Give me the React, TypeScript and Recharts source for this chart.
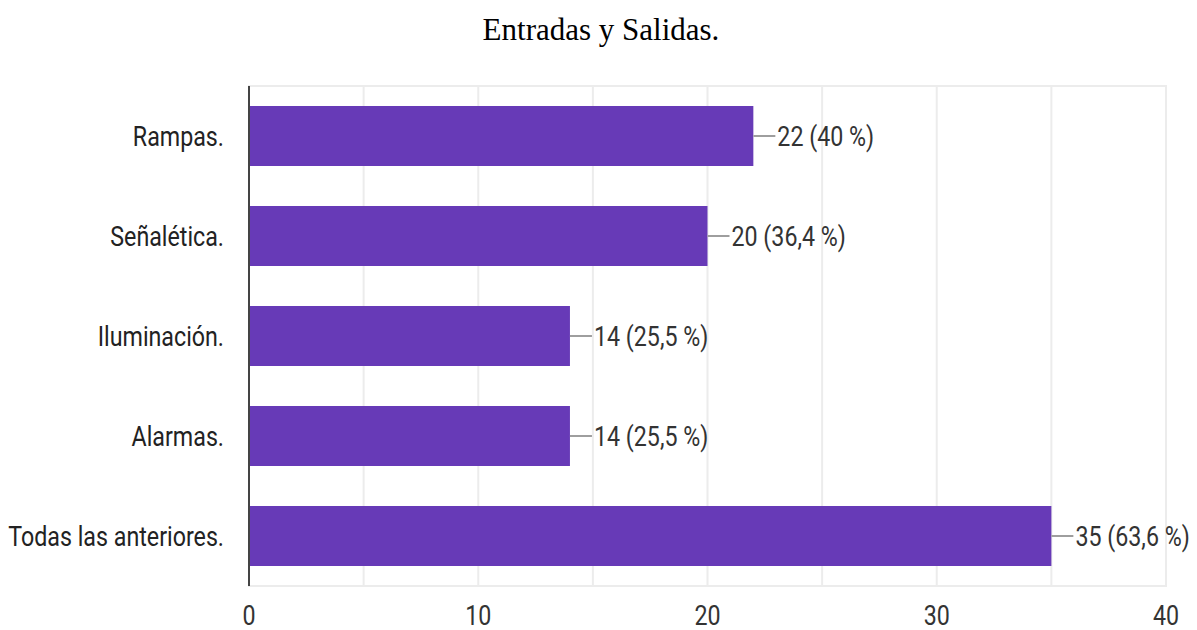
import { BarChart, Bar, XAxis, YAxis, CartesianGrid, ReferenceArea, LabelList } from 'recharts'

const categories = ['Rampas.', 'Señalética.', 'Iluminación.', 'Alarmas.', 'Todas las anteriores.']
const counts = [22, 20, 14, 14, 35]
const percents = ['40', '36,4', '25,5', '25,5', '63,6']
const xTicks = [0, 10, 20, 30, 40]
const gridValues = [0, 5, 10, 15, 20, 25, 30, 35, 40]

const data = categories.map((name, i) => ({
  name,
  value: counts[i],
  label: `${counts[i]} (${percents[i]} %)`,
}))

// reference text is a condensed sans, so squeeze Roboto horizontally
const FONT = 'Roboto, "Liberation Sans", sans-serif'
const SQUEEZE = 0.83

function NarrowText({ x, y, anchor, fill, children }: any) {
  return (
    <text
      transform={`translate(${x},${y}) scale(${SQUEEZE},1)`}
      textAnchor={anchor}
      fontSize={28}
      fontFamily={FONT}
      fill={fill}
    >
      {children}
    </text>
  )
}

// grid runs every 5, labels only every 10
function XTick(props: any) {
  const { x, y, payload } = props
  if (!xTicks.includes(payload.value)) return <g />
  return <NarrowText x={x} y={Number(y) + 39} anchor="middle" fill="#333">{payload.value}</NarrowText>
}

function YTick(props: any) {
  const { x, y, payload } = props
  return <NarrowText x={x} y={Number(y) + 10} anchor="end" fill="#222">{payload.value}</NarrowText>
}

function ValueLabel(props: any) {
  const { x, y, width, height, index } = props
  const x0 = Number(x) + Number(width)
  const cy = Number(y) + Number(height) / 2
  return (
    <g>
      <line x1={x0} y1={cy} x2={x0 + 22} y2={cy} stroke="#9e9e9e" strokeWidth={2} />
      <NarrowText x={x0 + 24} y={cy + 10} anchor="start" fill="#333">{data[index].label}</NarrowText>
    </g>
  )
}

export default function App() {
  return (
    <div style={{ position: 'absolute', left: 0, top: 0, width: 1197, height: 630, background: '#fff' }}>
      <div
        style={{
          position: 'absolute', top: 12, left: 0, width: 1202, textAlign: 'center',
          fontFamily: '"Liberation Serif", "Times New Roman", serif', fontSize: 31, color: '#000',
        }}
      >
        Entradas y Salidas.
      </div>
      <BarChart
        width={1197}
        height={630}
        data={data}
        layout="vertical"
        margin={{ top: 86, right: 31, bottom: 0, left: 0 }}
        style={{ position: 'absolute', left: 0, top: 0 }}
      >
        <CartesianGrid horizontal={false} stroke="#ececec" strokeWidth={2} />
        <ReferenceArea x1={0} x2={40} fill="none" stroke="#ececec" strokeWidth={2} />
        <XAxis
          type="number"
          domain={[0, 40]}
          ticks={gridValues}
          interval={0}
          axisLine={false}
          tickLine={false}
          tickSize={0}
          tickMargin={0}
          height={44}
          tick={<XTick />}
        />
        <YAxis
          type="category"
          dataKey="name"
          width={249}
          axisLine={{ stroke: '#444', strokeWidth: 2 }}
          tickLine={false}
          tickSize={0}
          tickMargin={25}
          tick={<YTick />}
        />
        <Bar dataKey="value" fill="#673ab7" barSize={60} isAnimationActive={false}>
          <LabelList dataKey="label" content={<ValueLabel />} />
        </Bar>
      </BarChart>
    </div>
  )
}
